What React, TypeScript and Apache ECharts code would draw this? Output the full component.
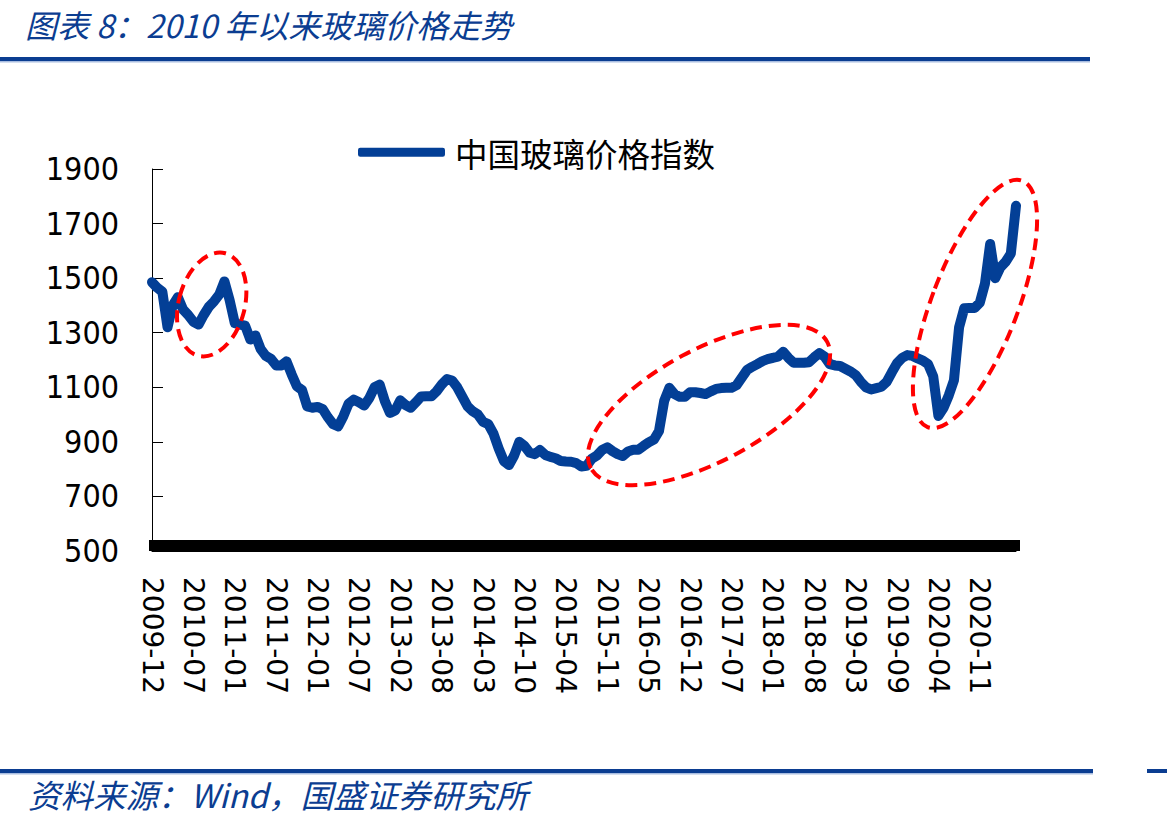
import React, { useEffect, useRef } from "react";
import * as echarts from "echarts";

const seriesName = "中国玻璃价格指数";

const tickLabels = [
  "2009-12", "2010-07", "2011-01", "2011-07", "2012-01", "2012-07", "2013-02",
  "2013-08", "2014-03", "2014-10", "2015-04", "2015-11", "2016-05", "2016-12",
  "2017-07", "2018-01", "2018-08", "2019-03", "2019-09", "2020-04", "2020-11",
];

const LABEL_STEP = 8;

const glassIndex = [
  1485, 1465, 1450, 1320, 1400, 1430, 1385, 1365, 1340, 1330,
  1365, 1395, 1415, 1440, 1488, 1420, 1335, 1330, 1326, 1275,
  1290, 1240, 1215, 1204, 1180, 1180, 1195, 1147, 1104, 1090,
  1030, 1025, 1028, 1020, 990, 965, 957, 994, 1040, 1055,
  1045, 1033, 1060, 1100, 1110, 1050, 1006, 1015, 1052, 1035,
  1025, 1045, 1066, 1067, 1067, 1085, 1110, 1130, 1125, 1100,
  1065, 1030, 1012, 1000, 973, 965, 930, 876, 830, 815,
  850, 900, 885, 860, 855, 870, 852, 845, 840, 830,
  828, 827, 822, 810, 812, 838, 850, 870, 880, 866,
  855, 848, 865, 871, 871, 885, 898, 908, 940, 1050,
  1098, 1075, 1065, 1065, 1082, 1082, 1079, 1075, 1085, 1094,
  1097, 1098, 1098, 1108, 1135, 1163, 1175, 1185, 1196, 1203,
  1208, 1212, 1230, 1208, 1190, 1190, 1190, 1192, 1210, 1225,
  1212, 1185, 1180, 1178, 1168, 1158, 1145, 1120, 1100, 1092,
  1097, 1102, 1120, 1155, 1188, 1208, 1218, 1215, 1206, 1198,
  1185, 1140, 995, 1025, 1070, 1125, 1320, 1390, 1391, 1391,
  1410, 1480, 1625, 1500, 1540, 1560, 1590, 1765,
];

const categories = glassIndex.map((_, i) =>
  i % LABEL_STEP === 0 && tickLabels[i / LABEL_STEP] ? tickLabels[i / LABEL_STEP] : "#" + i
);

const BLUE = "#0b3d91";
const LINE_BLUE = "#033f96";

export default function App() {
  const ref = useRef<HTMLDivElement>(null);

  useEffect(() => {
    if (!ref.current) return;
    const chart = echarts.init(ref.current, null, { renderer: "svg" });

    const ellipse = (x: number, y: number, rx: number, ry: number, rot: number) => ({
      type: "ellipse",
      x,
      y,
      rotation: rot,
      z: 100,
      shape: { cx: 0, cy: 0, rx, ry },
      style: { fill: "none", stroke: "#ff0000", lineWidth: 4, lineDash: [12, 7] },
    });

    chart.setOption({
      animation: false,
      backgroundColor: "#ffffff",
      grid: { left: 152, top: 169, width: 864, height: 382, containLabel: false },
      legend: {
        data: [seriesName],
        left: 353,
        top: 131,
        itemWidth: 87,
        itemHeight: 9,
        icon: "roundRect",
        textStyle: {
          fontSize: 32.5,
          color: "#000",
          fontFamily: "'Noto Sans CJK SC'",
          padding: [0, 0, 0, 5],
        },
      },
      xAxis: {
        type: "category",
        data: categories,
        boundaryGap: false,
        axisLine: { show: true, lineStyle: { color: "#000", width: 1 } },
        axisTick: {
          show: true,
          inside: true,
          length: 11,
          interval: 0,
          lineStyle: { color: "#000", width: 7 },
        },
        axisLabel: {
          interval: (index: number) => index % LABEL_STEP === 0,
          rotate: -90,
          margin: 26,
          fontSize: 28,
          color: "#000",
          fontFamily: "'DejaVu Sans'",
        },
        splitLine: { show: false },
      },
      yAxis: {
        type: "value",
        min: 500,
        max: 1900,
        interval: 200,
        axisLine: { show: true, lineStyle: { color: "#000", width: 1 } },
        axisTick: { show: true, inside: true, length: 11, lineStyle: { color: "#000" } },
        axisLabel: {
          margin: 33,
          fontSize: 32,
          color: "#000",
          fontFamily: "'DejaVu Sans Condensed', 'DejaVu Sans'",
          formatter: (v: number) => String(v),
        },
        splitLine: { show: false },
      },
      series: [
        {
          name: seriesName,
          type: "line",
          data: glassIndex,
          showSymbol: false,
          symbol: "none",
          lineStyle: { color: LINE_BLUE, width: 10, cap: "round", join: "round" },
          itemStyle: { color: LINE_BLUE },
          z: 3,
        },
      ],
      graphic: [
        {
          type: "text",
          left: 25,
          top: 8,
          style: {
            text: "图表 8：2010 年以来玻璃价格走势",
            fontSize: 32,
            fontStyle: "italic",
            fontFamily: "'Noto Sans CJK SC'",
            fill: BLUE,
          },
        },
        { type: "rect", shape: { x: 0, y: 57, width: 1090, height: 4 }, style: { fill: BLUE } },
        { type: "rect", shape: { x: 0, y: 61, width: 1090, height: 1.5 }, style: { fill: "#a9bde0" } },
        { type: "rect", shape: { x: 0, y: 769, width: 1093, height: 4 }, style: { fill: BLUE } },
        { type: "rect", shape: { x: 0, y: 773, width: 1093, height: 1.5 }, style: { fill: "#a9bde0" } },
        { type: "rect", shape: { x: 1147, y: 769, width: 20, height: 4 }, style: { fill: BLUE } },
        {
          type: "text",
          left: 28,
          top: 777,
          style: {
            text: "资料来源：Wind，国盛证券研究所",
            fontSize: 32.5,
            fontStyle: "italic",
            fontFamily: "'Noto Sans CJK SC'",
            fill: BLUE,
          },
        },
        ellipse(211.7, 304.5, 33, 53, -0.26),
        ellipse(709, 405, 134, 56, 0.49),
        ellipse(975, 304, 43, 132, -0.367),
      ],
    });

    return () => chart.dispose();
  }, []);

  return (
    <div
      ref={ref}
      style={{ position: "fixed", left: 0, top: 0, width: 1167, height: 824, background: "#fff" }}
    />
  );
}
